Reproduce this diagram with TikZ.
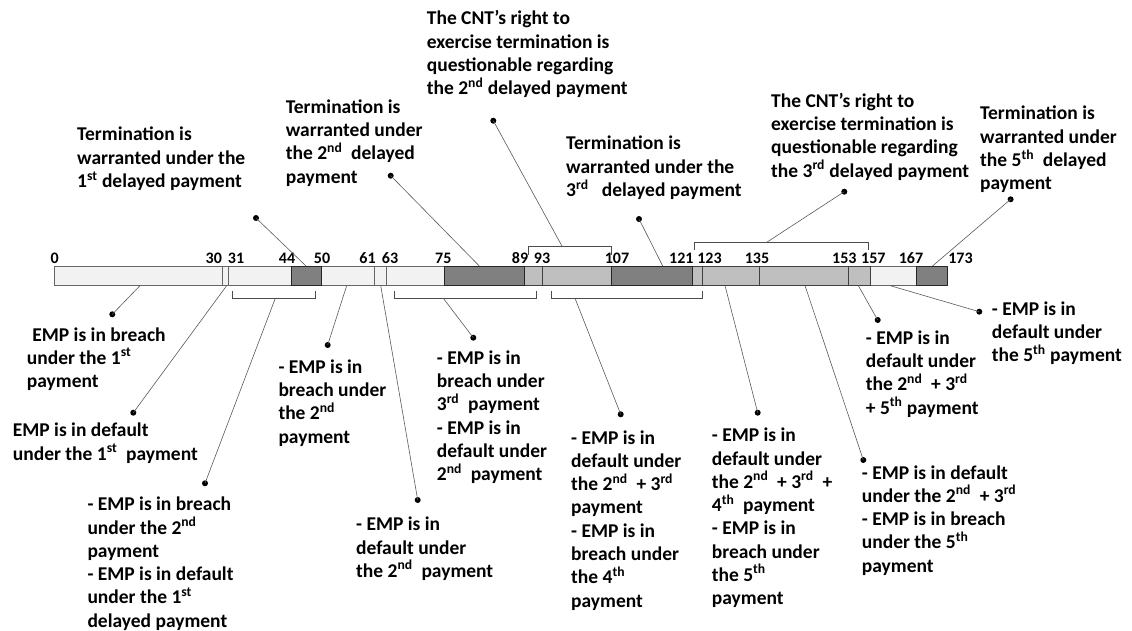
\documentclass[tikz,border=0pt]{standalone}
\usepackage{fontspec}
\setmainfont{Carlito}
\tikzset{
  lbl/.style={font=\bfseries\fontsize{19.5}{23.3}\selectfont, align=left, anchor=base west, inner sep=0pt},
  num/.style={font=\bfseries\fontsize{16}{18}\selectfont, anchor=base, inner sep=0pt},
  pin/.style={circle, fill=black, inner sep=0pt, minimum size=6pt},
  lead/.style={draw=black!65, line width=0.6pt},
  brk/.style={draw=black!70, line width=1pt},
  seglight/.style={fill=black!5, draw=black!60, line width=0.8pt},
  segmid/.style={fill=black!25, draw=black!75, line width=0.8pt},
  segdark/.style={fill=black!50, draw=black!85, line width=0.8pt}
}
\begin{document}
\begin{tikzpicture}[x=1pt, y=-1pt]
  \useasboundingbox (0,0) rectangle (1132,631);
  % bar
  \draw[seglight] (54.3,266) rectangle (222.7,285.6);
  \draw[seglight] (222.7,266) rectangle (228.7,285.6);
  \draw[seglight] (228.7,266) rectangle (291.3,285.6);
  \draw[seglight] (321.7,266) rectangle (374.7,285.6);
  \draw[seglight] (374.7,266) rectangle (386.7,285.6);
  \draw[seglight] (386.7,266) rectangle (444.3,285.6);
  \draw[seglight] (870,266) rectangle (916.7,285.6);
  \draw[segmid] (524,266) rectangle (542.7,285.6);
  \draw[segmid] (542.7,266) rectangle (611.7,285.6);
  \draw[segmid] (692.7,266) rectangle (702.7,285.6);
  \draw[segmid] (702.7,266) rectangle (759.3,285.6);
  \draw[segmid] (759.3,266) rectangle (848.3,285.6);
  \draw[segmid] (848.3,266) rectangle (870,285.6);
  \draw[segdark] (291.3,266) rectangle (321.7,285.6);
  \draw[segdark] (444.3,266) rectangle (524,285.6);
  \draw[segdark] (611.7,266) rectangle (692.7,285.6);
  \draw[segdark] (916.7,266) rectangle (947.2,285.6);

  \node[num] (n0) at (54.7,263.3) {0};
  \node[num] (n30) at (213.8,263.3) {30};
  \node[num] (n31) at (236,263.3) {31};
  \node[num] (n44) at (287,263.3) {44};
  \node[num] (n50) at (322,263.3) {50};
  \node[num] (n61) at (367.5,263.3) {61};
  \node[num] (n63) at (390,263.3) {63};
  \node[num] (n75) at (443.3,263.3) {75};
  \node[num] (n89) at (520,263.3) {89};
  \node[num] (n93) at (542,263.3) {93};
  \node[num] (n107) at (617,263.3) {107};
  \node[num] (n121) at (681.4,263.3) {121};
  \node[num] (n123) at (709.5,263.3) {123};
  \node[num] (n135) at (757,263.3) {135};
  \node[num] (n153) at (844.4,263.3) {153};
  \node[num] (n157) at (873.4,263.3) {157};
  \node[num] (n167) at (911,263.3) {167};
  \node[num] (n173) at (960.5,263.3) {173};

  % brackets
  \draw[brk] (528.3,255) -- (528.3,246.7) -- (611.7,246.7) -- (611.7,255);
  \draw[brk] (694.3,250) -- (694.3,242.3) -- (868.3,242.3) -- (868.3,250);
  \draw[brk] (232.3,291) -- (232.3,298.3) -- (315.3,298.3) -- (315.3,291);
  \draw[brk] (394,291) -- (394,298.3) -- (536.7,298.3) -- (536.7,291);
  \draw[brk] (551.7,291) -- (551.7,298.3) -- (702.3,298.3) -- (702.3,291);

  \coordinate (a1) at (306,266);
  \coordinate (a2) at (479.3,266);
  \coordinate (a3) at (562.3,246.7);
  \coordinate (a4) at (662.7,266);
  \coordinate (a5) at (766.7,242.3);
  \coordinate (a6) at (932.5,266);
  \coordinate (b1) at (140,285.6);
  \coordinate (b2) at (226.7,285.6);
  \coordinate (b3) at (275.3,298.3);
  \coordinate (b4) at (346.7,285.6);
  \coordinate (b5) at (380.7,285.6);
  \coordinate (b6) at (443.3,298.3);
  \coordinate (b7) at (575,298.3);
  \coordinate (b8) at (725,285.6);
  \coordinate (b9) at (805,285.6);
  \coordinate (b10) at (858.3,285.6);
  \coordinate (b11) at (890,285.6);

  % labels above (placed at the baseline of their last line)
  \node[lbl] (t1) at (77,187.6) {Termination is\\warranted under the\\1\textsuperscript{st} delayed payment};
  \node[pin] (p1) at (256,218) {};
  \node[lbl] (t2) at (285.7,183.2) {Termination is\\warranted under\\the 2\textsuperscript{nd}\ \ delayed\\payment};
  \node[pin] (p2) at (390.7,175.7) {};
  \node[lbl] (t3) at (426.7,94.9) {The CNT’s right to\\exercise termination is\\questionable regarding\\the 2\textsuperscript{nd} delayed payment};
  \node[pin] (p3) at (493.3,120.7) {};
  \node[lbl] (t4) at (566,196.6) {Termination is\\warranted under the\\3\textsuperscript{rd}\ \ \ delayed payment};
  \node[pin] (p4) at (639,219) {};
  \node[lbl] (t5) at (771,177.2) {The CNT’s right to\\exercise termination is\\questionable regarding\\the 3\textsuperscript{rd} delayed payment};
  \node[pin] (p5) at (844.3,191.7) {};
  \node[lbl] (t6) at (980,189.9) {Termination is\\warranted under\\the 5\textsuperscript{th}\ \ delayed\\payment};
  \node[pin] (p6) at (1010.6,199.3) {};

  % labels below
  \node[lbl] (e1) at (26.7,387.6) {\hspace*{5.5pt}EMP is in breach\\under the 1\textsuperscript{st}\\payment};
  \node[pin] (q1) at (112.3,314.3) {};
  \node[lbl] (e2) at (12.7,460) {EMP is in default\\under the 1\textsuperscript{st}\ \ payment};
  \node[pin] (q2) at (133.3,412.7) {};
  \node[lbl] (e3) at (87.3,627.2) {- EMP is in breach\\under the 2\textsuperscript{nd}\\payment\\- EMP is in default\\under the 1\textsuperscript{st}\\delayed payment};
  \node[pin] (q3) at (205,483.3) {};
  \node[lbl] (e4) at (278.3,443.2) {- EMP is in\\breach under\\the 2\textsuperscript{nd}\\payment};
  \node[pin] (q4) at (327.7,345) {};
  \node[lbl] (e5) at (356,577.3) {- EMP is in\\default under\\the 2\textsuperscript{nd}\ \ payment};
  \node[pin] (q5) at (417.7,500) {};
  \node[lbl] (e6) at (436.7,480.8) {- EMP is in\\breach under\\3\textsuperscript{rd}\ \ payment\\- EMP is in\\default under\\2\textsuperscript{nd}\ \ payment};
  \node[pin] (q6) at (473.3,337.7) {};
  \node[lbl] (e7) at (571,607.1) {- EMP is in\\default under\\the 2\textsuperscript{nd}\ \ + 3\textsuperscript{rd}\\payment\\- EMP is in\\breach under\\the 4\textsuperscript{th}\\payment};
  \node[pin] (q7) at (620.7,414.3) {};
  \node[lbl] (e8) at (711.7,604.8) {- EMP is in\\default under\\the 2\textsuperscript{nd}\ \ + 3\textsuperscript{rd}\ \ +\\4\textsuperscript{th}\ \ payment\\- EMP is in\\breach under\\the 5\textsuperscript{th}\\payment};
  \node[pin] (q8) at (757.7,412.7) {};
  \node[lbl] (e9) at (861.7,572.2) {- EMP is in default\\under the 2\textsuperscript{nd}\ \ + 3\textsuperscript{rd}\\- EMP is in breach\\under the 5\textsuperscript{th}\\payment};
  \node[pin] (q9) at (863.3,460) {};
  \node[lbl] (e10) at (865.7,414.2) {- EMP is in\\default under\\the 2\textsuperscript{nd}\ \ + 3\textsuperscript{rd}\\+ 5\textsuperscript{th} payment};
  \node[pin] (q10) at (877.7,320) {};
  \node[lbl] (e11) at (991.7,361.6) {- EMP is in\\default under\\the 5\textsuperscript{th} payment};
  \node[pin] (q11) at (979.3,311.7) {};

  \draw[lead] (p1.center) -- (a1);
  \draw[lead] (p2.center) -- (a2);
  \draw[lead] (p3.center) -- (a3);
  \draw[lead] (p4.center) -- (a4);
  \draw[lead] (p5.center) -- (a5);
  \draw[lead] (p6.center) -- (a6);
  \draw[lead] (q1.center) -- (b1);
  \draw[lead] (q2.center) -- (b2);
  \draw[lead] (q3.center) -- (b3);
  \draw[lead] (q4.center) -- (b4);
  \draw[lead] (q5.center) -- (b5);
  \draw[lead] (q6.center) -- (b6);
  \draw[lead] (q7.center) -- (b7);
  \draw[lead] (q8.center) -- (b8);
  \draw[lead] (q9.center) -- (b9);
  \draw[lead] (q10.center) -- (b10);
  \draw[lead] (q11.center) -- (b11);
\end{tikzpicture}
\end{document}
